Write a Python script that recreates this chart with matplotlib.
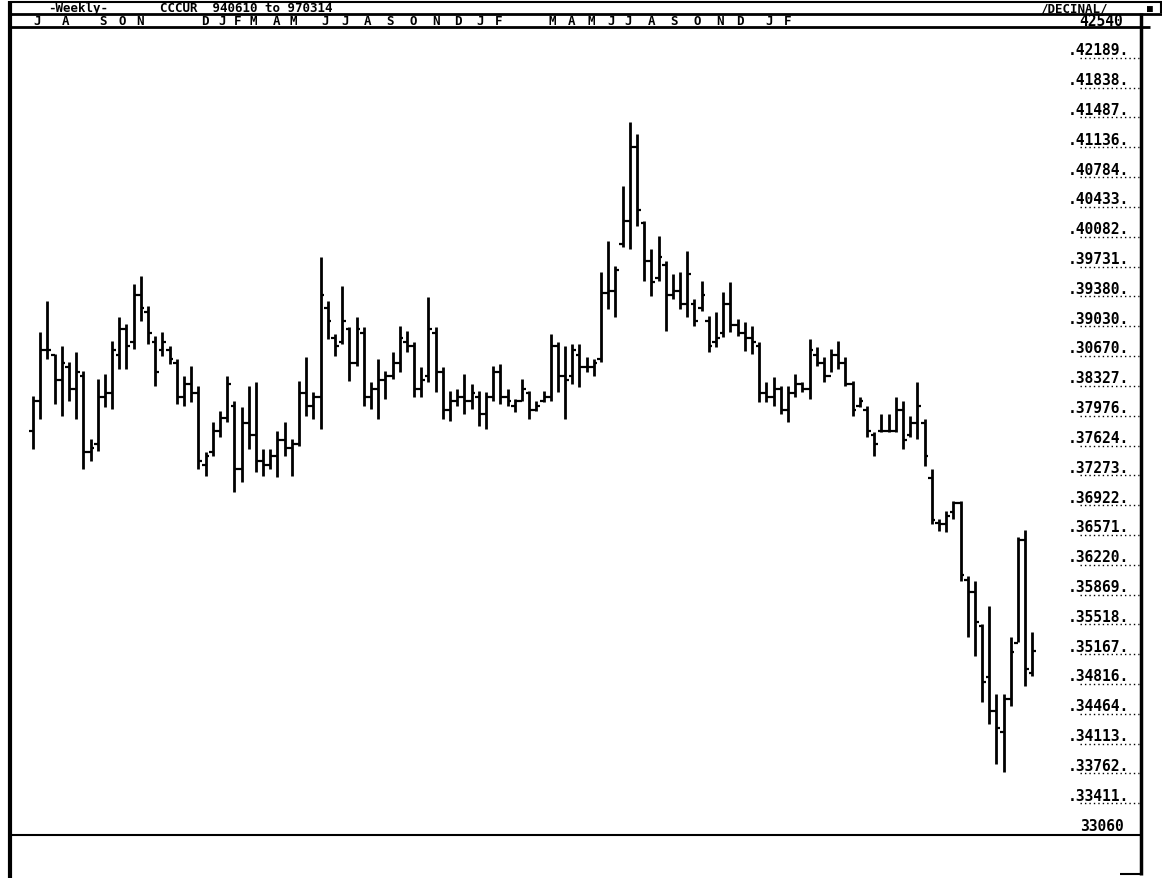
#!/usr/bin/env python3
# -*- coding: utf-8 -*-

# Import libraries
import matplotlib
matplotlib.use("Agg")
import matplotlib.pyplot as plt
from matplotlib.lines import Line2D
from matplotlib import transforms

# Weekly bars, 940610 to 970314
highs = [38112, 38866, 39231, 38607, 38701, 38512, 38630, 38406, 37606, 38312,
         38371, 38760, 39042, 38960, 39431, 39525, 39172, 38819, 38866, 38701,
         38548, 38347, 38465, 38230, 37452, 37806, 37935, 38347, 38053, 37982,
         38230, 38277, 37488, 37488, 37700, 37806, 37606, 38289, 38571, 38159,
         39749, 39231, 38842, 39407, 38924, 39042, 38924, 38277, 38548, 38406,
         38630, 38936, 38877, 38748, 38453, 39278, 38924, 38453, 38171, 38194,
         38371, 38253, 38171, 38159, 38465, 38489, 38194, 38077, 38312, 38171,
         38053, 38171, 38842, 38748, 38701, 38724, 38724, 38571, 38548, 39572,
         39937, 39643, 40585, 41339, 41197, 40173, 39843, 39996, 39702, 39549,
         39572, 39819, 39254, 39466, 39054, 39101, 39337, 39454, 39019, 38983,
         38936, 38748, 38277, 38336, 38230, 38230, 38371, 38277, 38783, 38689,
         38571, 38665, 38760, 38571, 38289, 38100, 37994, 37688, 37900, 37900,
         38100, 38053, 37876, 38277, 37841, 37252, 36664, 36758, 36875, 36875,
         35992, 35933, 35427, 35639, 34603, 34603, 35274, 36450, 36530, 35333]
lows = [37488, 37841, 38548, 38018, 37876, 38053, 37841, 37252, 37347, 37464,
        37982, 37959, 38430, 38430, 38665, 38995, 38724, 38230, 38583, 38489,
        38018, 37994, 38041, 37252, 37170, 37405, 37629, 37806, 36981, 37099,
        37488, 37217, 37170, 37252, 37158, 37405, 37170, 37523, 37876, 37841,
        37723, 38783, 38583, 38724, 38289, 38465, 37994, 37959, 37841, 38077,
        38312, 38395, 38630, 38100, 38100, 38277, 38159, 37841, 37818, 37994,
        37900, 37959, 37759, 37723, 38053, 38018, 37994, 37924, 38053, 37841,
        37935, 38041, 38053, 38159, 37841, 38253, 38218, 38395, 38347, 38512,
        39136, 39042, 39867, 39843, 40114, 39466, 39290, 39466, 38877, 39254,
        39136, 39042, 38936, 39113, 38630, 38689, 38807, 38866, 38819, 38642,
        38607, 38041, 38041, 37994, 37900, 37806, 38100, 38159, 38077, 38465,
        38277, 38395, 38430, 38230, 37876, 37982, 37629, 37405, 37688, 37688,
        37688, 37488, 37629, 37606, 37288, 36605, 36522, 36511, 36664, 35933,
        35274, 35050, 34508, 34249, 33778, 33684, 34461, 35215, 34697, 34815]
opens = [37700, 38050, 38650, 38600, 38300, 38450, 38200, 38350, 37450, 37550,
         38100, 38150, 38600, 38900, 38750, 39300, 39100, 38750, 38650, 38650,
         38500, 38100, 38250, 38150, 37300, 37450, 37700, 37850, 38000, 37250,
         37800, 37650, 37350, 37300, 37400, 37600, 37500, 37550, 38150, 38000,
         38100, 39150, 38800, 38750, 38900, 38500, 38850, 38100, 38200, 38300,
         38350, 38500, 38750, 38700, 38200, 38350, 38850, 38400, 37950, 38050,
         38100, 38050, 38100, 37900, 38100, 38400, 38100, 38000, 38050, 38150,
         37950, 38050, 38100, 38700, 38350, 38350, 38600, 38450, 38450, 38550,
         39330, 39350, 39900, 40170, 41040, 40150, 39700, 39500, 39650, 39300,
         39350, 39200, 39200, 39150, 39000, 38750, 38850, 39200, 38950, 38850,
         38800, 38700, 38150, 38100, 38200, 37950, 38150, 38250, 38200, 38600,
         38500, 38350, 38600, 38500, 38250, 38000, 37950, 37650, 37700, 37700,
         37700, 37950, 37650, 37800, 37800, 37150, 36620, 36600, 36750, 36850,
         35950, 35800, 35400, 34800, 34400, 34150, 34550, 35200, 36420, 34850]
closes = [38050, 38650, 38650, 38300, 38500, 38200, 38400, 37450, 37500, 38100,
          38150, 38650, 38900, 38700, 39300, 39150, 38850, 38400, 38750, 38550,
          38100, 38250, 38150, 37350, 37400, 37700, 37850, 38250, 37250, 37800,
          37650, 37350, 37300, 37400, 37600, 37500, 37550, 38150, 38000, 38100,
          39300, 39000, 38700, 39000, 38500, 38900, 38100, 38200, 38300, 38350,
          38500, 38800, 38700, 38200, 38300, 38900, 38400, 37950, 38050, 38100,
          38050, 38150, 37900, 38100, 38400, 38100, 38050, 38050, 38200, 37950,
          38000, 38100, 38700, 38350, 38300, 38650, 38450, 38450, 38500, 39330,
          39350, 39600, 40170, 41040, 40300, 39700, 39450, 39750, 39300, 39350,
          39200, 39550, 39000, 39300, 38700, 38800, 39200, 38950, 38850, 38800,
          38750, 38150, 38100, 38200, 37950, 38150, 38250, 38200, 38650, 38500,
          38350, 38600, 38500, 38250, 37950, 38050, 37700, 37550, 37700, 37700,
          37950, 37600, 37800, 38000, 37400, 36650, 36600, 36700, 36850, 36000,
          35800, 35450, 34750, 34400, 34200, 34550, 35100, 36420, 34900, 35110]

# Month letters along the top and where they sit (in weeks)
month_labels = ["J", "A", "S", "O", "N", "D", "J", "F", "M", "A", "M",
                "J", "J", "A", "S", "O", "N", "D", "J", "F",
                "M", "A", "M", "J", "J", "A", "S", "O", "N", "D", "J", "F"]
month_pos = [0.6, 4.5, 9.7, 12.4, 14.9, 23.9, 26.3, 28.5, 30.7, 33.9, 36.2,
             40.6, 43.4, 46.5, 49.6, 52.9, 56.0, 59.1, 62.2, 64.7,
             72.2, 74.9, 77.6, 80.4, 82.8, 86.0, 89.2, 92.4, 95.5, 98.3, 102.4, 105.0]

# Price scale labels (as printed) and their levels
scale_labels = ["42540", "42189", "41838", "41487", "41136", "40784", "40433",
                "40082", "39731", "39380", "39030", "30670", "38327", "37976",
                "37624", "37273", "36922", "36571", "36220", "35869", "35518",
                "35167", "34816", "34464", "34113", "33762", "33411", "33060"]
scale_values = [42540, 42189, 41838, 41487, 41136, 40784, 40433,
                40082, 39731, 39380, 39029, 38678, 38327, 37976,
                37624, 37273, 36922, 36571, 36220, 35869, 35518,
                35167, 34816, 34464, 34113, 33762, 33411, 33060]

W, H = 1162, 879
fig = plt.figure(figsize=(W / 100, H / 100), dpi=100)
fig.patch.set_facecolor("white")

mono = "DejaVu Sans Mono"


def px(x, y):
    return x / W, 1 - y / H


def frame_line(x0, y0, x1, y1, lw=1.5):
    (a, b), (c, d) = px(x0, y0), px(x1, y1)
    fig.add_artist(Line2D([a, c], [b, d], color="black", lw=lw,
                          transform=fig.transFigure, solid_capstyle="butt"))


# Chart area
left, bottom = px(10, 836)
ax = fig.add_axes([left, bottom, 1130 / W, 808 / H])
for s in ax.spines.values():
    s.set_visible(False)
ax.set_facecolor("white")

weeks = list(range(len(highs)))
lw = 2.0
ax.vlines(weeks, lows, highs, color="black", lw=lw)
ax.hlines(opens, [w - 0.5 for w in weeks], weeks, color="black", lw=1.6)
ax.hlines(closes, weeks, [w + 0.5 for w in weeks], color="black", lw=1.6)

ax.set_xlim(-3.2, 153.96)
ax.set_ylim(32942.6, 42457.6)

ax.xaxis.tick_top()
ax.set_xticks(month_pos)
ax.set_xticklabels(month_labels, fontfamily=mono, fontweight="bold", fontsize=9)
ax.tick_params(axis="x", length=0, pad=0.3)
ax.set_yticks([])

# Price scale on the right with dotted underlines
trans = transforms.blended_transform_factory(ax.transAxes, ax.transData)
for i, (lab, val) in enumerate(zip(scale_labels, scale_values)):
    ends = i == 0 or i == len(scale_labels) - 1
    txt = lab if ends else "." + lab + "."
    xpos = 0.966 if ends else 0.9635
    ax.text(xpos, val, txt, transform=trans, ha="center", va="center",
            fontfamily=mono, fontweight="bold", fontsize=10.5, clip_on=False)
    if not ends:
        ax.plot([0.947, 0.9995], [val - 95, val - 95], transform=trans,
                color="black", lw=1.0, ls=(0, (1, 2.2)), clip_on=False)

# Header line
hdr = dict(fontfamily=mono, fontweight="bold", fontsize=9, va="center", ha="left")
fig.text(*px(48, 8.5), "-Weekly-", **hdr)
fig.text(*px(160, 8.5), "CCCUR  940610 to 970314", **hdr)
fig.text(*px(1040, 8.5), "/DECINAL/", **hdr)
fig.text(*px(1150, 8.5), "\u25a0", fontfamily=mono, fontsize=7,
         va="center", ha="center")

# Screen frame
frame_line(10, 3, 1162, 3, lw=1.5)
frame_line(10, 14.5, 1162, 14.5, lw=2)
frame_line(10, 28, 1150, 28, lw=2)
frame_line(10, 836, 1141, 836, lw=1.5)
frame_line(10, 2, 10, 879, lw=3)
frame_line(1141, 14, 1141, 876, lw=2.5)
frame_line(1120, 875, 1141, 875, lw=1.5)
frame_line(1161, 2, 1161, 14, lw=1.5)

fig.savefig("out.png", dpi=100, facecolor="white")
plt.close(fig)
